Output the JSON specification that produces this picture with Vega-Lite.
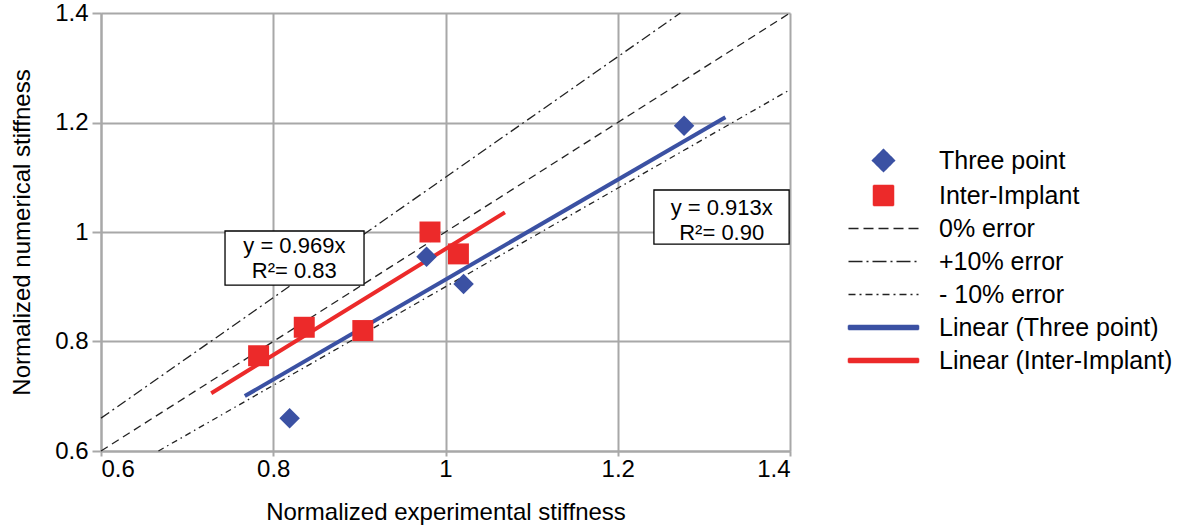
{
  "$schema": "https://vega.github.io/schema/vega-lite/v6.json",
  "width": 689,
  "height": 438,
  "autosize": {"type": "none"},
  "padding": {"left": 101, "top": 13, "right": 398, "bottom": 78},
  "background": "white",
  "config": {
    "font": "Liberation Sans",
    "view": {"stroke": null},
    "axis": {
      "gridColor": "#a8a8a8",
      "gridWidth": 2,
      "domainColor": "#a8a8a8",
      "domainWidth": 2,
      "tickColor": "#a8a8a8",
      "tickWidth": 2,
      "labelFont": "Liberation Sans",
      "labelFontSize": 24,
      "labelColor": "#000000",
      "titleFont": "Liberation Sans",
      "titleFontSize": 24,
      "titleFontWeight": "normal",
      "titleColor": "#000000"
    }
  },
  "datasets": {
    "measured": [
      {"series": "Three point", "x": 0.819, "y": 0.660},
      {"series": "Three point", "x": 0.978, "y": 0.955},
      {"series": "Three point", "x": 1.021, "y": 0.905},
      {"series": "Three point", "x": 1.277, "y": 1.194},
      {"series": "Inter-Implant", "x": 0.783, "y": 0.774},
      {"series": "Inter-Implant", "x": 0.836, "y": 0.826},
      {"series": "Inter-Implant", "x": 0.904, "y": 0.820},
      {"series": "Inter-Implant", "x": 0.982, "y": 1.000},
      {"series": "Inter-Implant", "x": 1.015, "y": 0.960}
    ],
    "guides": [
      {"series": "0% error", "x": 0.6, "y": 0.6},
      {"series": "0% error", "x": 1.4, "y": 1.4},
      {"series": "+10% error", "x": 0.6, "y": 0.66},
      {"series": "+10% error", "x": 1.2727, "y": 1.4},
      {"series": "- 10% error", "x": 0.6667, "y": 0.6},
      {"series": "- 10% error", "x": 1.4, "y": 1.26}
    ],
    "fits": [
      {"series": "Linear (Three point)", "x": 0.767, "y": 0.7003},
      {"series": "Linear (Three point)", "x": 1.325, "y": 1.2097},
      {"series": "Linear (Inter-Implant)", "x": 0.728, "y": 0.7054},
      {"series": "Linear (Inter-Implant)", "x": 1.069, "y": 1.0359}
    ],
    "boxes": [
      {"x": 0.744, "x2": 0.9054, "y": 1.0018, "y2": 0.903},
      {"x": 1.242, "x2": 1.399, "y": 1.0767, "y2": 0.978}
    ],
    "equations": [
      {"x": 0.8245, "y": 0.9744, "label": "y = 0.969x"},
      {"x": 0.8245, "y": 0.9288, "label": "R²= 0.83"},
      {"x": 1.3207, "y": 1.0438, "label": "y = 0.913x"},
      {"x": 1.3207, "y": 0.9982, "label": "R²= 0.90"}
    ]
  },
  "encoding": {
    "x": {
      "field": "x", "type": "quantitative",
      "scale": {"domain": [0.6, 1.4], "nice": false, "zero": false},
      "axis": {
        "values": [0.6, 0.8, 1, 1.2, 1.4],
        "labelExpr": "format(datum.value, '.1~f')",
        "orient": "bottom",
        "tickSize": 5,
        "labelPadding": 1,
        "title": "Normalized experimental stiffness",
        "titlePadding": 19
      }
    },
    "y": {
      "field": "y", "type": "quantitative",
      "scale": {"domain": [0.6, 1.4], "nice": false, "zero": false},
      "axis": {
        "values": [0.6, 0.8, 1, 1.2, 1.4],
        "labelExpr": "format(datum.value, '.1~f')",
        "orient": "left",
        "tickSize": 9,
        "labelPadding": 4,
        "title": "Normalized numerical stiffness",
        "titlePadding": 20
      }
    }
  },
  "layer": [
    {
      "data": {"name": "guides"},
      "transform": [{"filter": "datum.series == '0% error'"}],
      "mark": {"type": "line", "strokeWidth": 1.3, "strokeDash": [8, 5]},
      "encoding": {
        "color": {
          "field": "series", "type": "nominal",
          "scale": {
            "domain": ["Three point", "Inter-Implant", "0% error", "+10% error", "- 10% error", "Linear (Three point)", "Linear (Inter-Implant)"],
            "range": ["#3b51a3", "#ec2a2a", "#222222", "#222222", "#222222", "#3b51a3", "#ec2a2a"]
          },
          "legend": {
            "title": null,
            "orient": "none",
            "legendX": 747,
            "legendY": 135,
            "padding": 0,
            "symbolSize": 400,
            "symbolStrokeWidth": 1.5,
            "symbolOffset": 23,
            "rowPadding": 7,
            "labelOffset": 43,
            "labelFont": "Liberation Sans",
            "labelFontSize": 25,
            "labelColor": "#000000",
            "labelLimit": 400,
            "encode": {
              "symbols": {
                "update": {
                  "shape": {"signal": "datum.value == 'Three point' ? 'M-1.1,0L0,-1.1L1.1,0L0,1.1Z' : datum.value == 'Inter-Implant' ? 'M-1,-1H1V1H-1Z' : indexof(datum.value, 'Linear') == 0 ? 'M-3.5,-0.2H3.5V0.2H-3.5Z' : 'M-3.5,0H3.5'"},
                  "fill": {"signal": "datum.value == 'Three point' || datum.value == 'Linear (Three point)' ? '#3b51a3' : datum.value == 'Inter-Implant' || datum.value == 'Linear (Inter-Implant)' ? '#ec2a2a' : 'transparent'"},
                  "stroke": {"signal": "indexof(datum.value, 'error') >= 0 ? '#222222' : 'transparent'"},
                  "strokeDash": {"signal": "datum.value == '0% error' ? [10, 5] : datum.value == '+10% error' ? [14, 4, 2, 4] : datum.value == '- 10% error' ? [7, 4, 2, 4] : [1, 0]"}
                }
              }
            }
          }
        }
      }
    },
    {
      "data": {"name": "guides"},
      "transform": [{"filter": "datum.series == '+10% error'"}],
      "mark": {"type": "line", "strokeWidth": 1.3, "strokeDash": [10, 4, 2, 4]},
      "encoding": {
        "color": {"field": "series", "type": "nominal"}
      }
    },
    {
      "data": {"name": "guides"},
      "transform": [{"filter": "datum.series == '- 10% error'"}],
      "mark": {"type": "line", "strokeWidth": 1.3, "strokeDash": [6, 4, 1.5, 4]},
      "encoding": {
        "color": {"field": "series", "type": "nominal"}
      }
    },
    {
      "data": {"name": "fits"},
      "mark": {"type": "line", "strokeWidth": 4, "strokeCap": "butt"},
      "encoding": {
        "color": {"field": "series", "type": "nominal"}
      }
    },
    {
      "data": {"name": "measured"},
      "transform": [{"filter": "datum.series == 'Three point'"}],
      "mark": {"type": "point", "shape": "diamond", "filled": true, "opacity": 1, "size": 420},
      "encoding": {
        "color": {"field": "series", "type": "nominal"}
      }
    },
    {
      "data": {"name": "measured"},
      "transform": [{"filter": "datum.series == 'Inter-Implant'"}],
      "mark": {"type": "point", "shape": "square", "filled": true, "opacity": 1, "size": 440},
      "encoding": {
        "color": {"field": "series", "type": "nominal"}
      }
    },
    {
      "data": {"name": "boxes"},
      "mark": {"type": "rect", "fill": "white", "stroke": "#000000", "strokeWidth": 1.3},
      "encoding": {
        "x2": {"field": "x2"},
        "y2": {"field": "y2"}
      }
    },
    {
      "data": {"name": "equations"},
      "mark": {"type": "text", "font": "Liberation Sans", "fontSize": 22, "color": "#000000", "align": "center", "baseline": "middle"},
      "encoding": {
        "text": {"field": "label"}
      }
    }
  ]
}
